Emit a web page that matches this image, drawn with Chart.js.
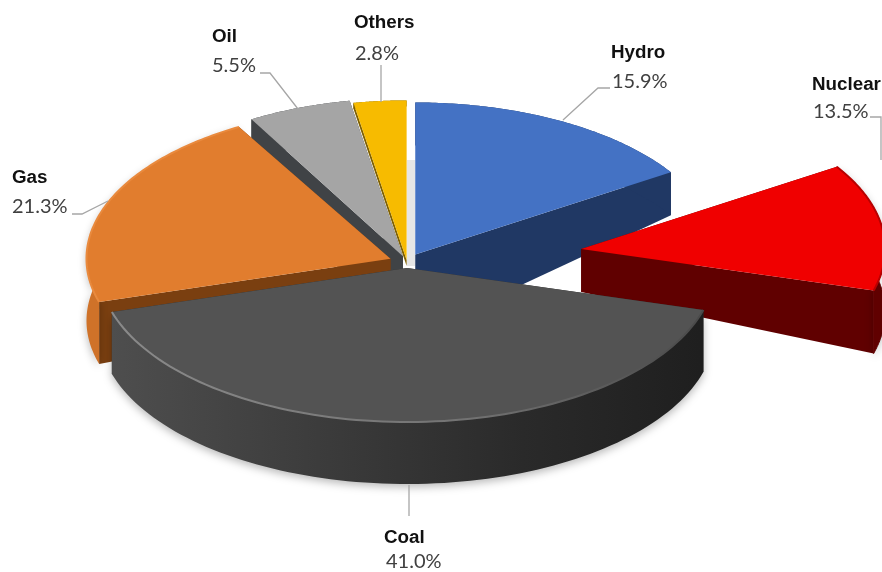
<!DOCTYPE html>
<html>
<head>
<meta charset="utf-8">
<title>Generation mix</title>
<style>
  html, body { margin: 0; padding: 0; background: #fff; overflow: hidden; }
  canvas { display: block; }
</style>
<script src="https://cdn.jsdelivr.net/npm/chart.js@4/dist/chart.umd.min.js"></script>
</head>
<body>
<canvas id="pieChart" width="882" height="572"></canvas>
<script>
/* =====================
  Data
===================== */
var categories = ['Hydro', 'Nuclear', 'Coal', 'Gas', 'Oil', 'Others'];
var shares = [15.9, 13.5, 41.0, 21.3, 5.5, 2.8];

/* =====================
  Slice styling
===================== */
var faceColors = ['#4472c4', '#f00000', '#535353', '#e17d2e', '#a5a5a5', '#f7bb00'];
var sideColors = ['#203864', '#600000', '#2c2c2c', '#7a3f10', '#404346', '#7f6000'];
var rimColors = ['#203864', '#600000', null, '#cf7229', '#404346', '#7f6000'];
var sliceOffsets = [30, 307, 21, 31, 21, 7];
// wall height at the slice tip and at the rim, px
var wallNear = [80, 43, 62, 50, 40, 6];
var wallFar = [43, 63, 62, 62, 40, 6];
// back slices go first so the front ones cover them
var drawOrder = [4, 5, 0, 3, 1, 2];

/* =====================
  Projection of the flat pie
===================== */
var pieCenter = { x: 407, y: 262 };
var rimRadius = [304, 304, 308, 304, 304, 304];
var rimTilt = [0.5, 0.5, 0.5, 0.5, 0.52, 0.525];
var baseRadius = 304;

/* =====================
  Labels: name anchor, value anchor, leader line
===================== */
var labelLayout = [
  { name: [611, 58], value: [612, 88], line: [[563, 120], [598, 88], [610, 88]] },
  { name: [812, 90], value: [813, 118], line: [[870, 117], [881, 117], [881, 160]] },
  { name: [384, 543], value: [386, 568], line: [[409, 485], [409, 516]] },
  { name: [12, 183], value: [12, 213], line: [[72, 214], [82, 214], [108, 201]] },
  { name: [212, 42], value: [212, 72], line: [[260, 73], [270, 73], [298, 109]] },
  { name: [354, 28], value: [355, 60], line: [[381, 65], [381, 102]] }
];

var projector = function (arc, index) {
  var sx = baseRadius / arc.outerRadius;
  var sy = sx * 0.5;
  var mid = (arc.startAngle + arc.endAngle) / 2;
  var shift = arc.options.offset / 4;
  var tipX = pieCenter.x + sx * Math.cos(mid) * shift;
  var tipY = pieCenter.y + sy * Math.sin(mid) * shift;
  return {
    tipX: tipX,
    tipY: tipY,
    // t runs from the tip (0) to the rim (1)
    at: function (angle, t) {
      return {
        x: tipX + t * rimRadius[index] * Math.cos(angle),
        y: tipY + t * rimRadius[index] * rimTilt[index] * Math.sin(angle)
      };
    },
    depth: function (t) {
      return wallNear[index] + (wallFar[index] - wallNear[index]) * t;
    }
  };
};

var drawRadialWall = function (ctx, pr, angle, color) {
  var tip = pr.at(angle, 0);
  var rim = pr.at(angle, 1);
  ctx.fillStyle = color;
  ctx.beginPath();
  ctx.moveTo(tip.x, tip.y);
  ctx.lineTo(rim.x, rim.y);
  ctx.lineTo(rim.x, rim.y + pr.depth(1));
  ctx.lineTo(tip.x, tip.y + pr.depth(0));
  ctx.closePath();
  ctx.fill();
};

var rimPoints = function (arc, pr) {
  var pts = [];
  var steps = 90;
  for (var i = 0; i <= steps; i++) {
    pts.push(pr.at(arc.startAngle + (arc.endAngle - arc.startAngle) * i / steps, 1));
  }
  return pts;
};

var tracePoints = function (ctx, pts) {
  pts.forEach(function (p, i) {
    if (i === 0) ctx.moveTo(p.x, p.y);
    else ctx.lineTo(p.x, p.y);
  });
};

var drawRimWall = function (ctx, arc, pr, index) {
  var pts = rimPoints(arc, pr);
  var fill = rimColors[index];
  if (index === 2) {
    fill = ctx.createLinearGradient(112, 0, 700, 0);
    fill.addColorStop(0, '#4e4e4e');
    fill.addColorStop(0.35, '#3c3c3c');
    fill.addColorStop(0.7, '#2a2a2a');
    fill.addColorStop(1, '#1f1f1f');
  }
  ctx.save();
  // soft ground shadow under the big front slices
  if (index === 1 || index === 2 || index === 3) {
    ctx.shadowColor = 'rgba(0,0,0,0.28)';
    ctx.shadowBlur = 9;
    ctx.shadowOffsetY = 3;
  }
  ctx.fillStyle = fill;
  ctx.beginPath();
  tracePoints(ctx, pts);
  for (var j = pts.length - 1; j >= 0; j--) {
    ctx.lineTo(pts[j].x, pts[j].y + pr.depth(1));
  }
  ctx.closePath();
  ctx.fill();
  // closes the hairline seam against the flat wall of the red slice
  if (index === 1) {
    ctx.shadowColor = 'transparent';
    ctx.strokeStyle = fill;
    ctx.lineWidth = 1;
    ctx.stroke();
  }
  ctx.restore();
};

var drawFace = function (ctx, arc, pr, index) {
  ctx.fillStyle = arc.options.backgroundColor;
  ctx.beginPath();
  tracePoints(ctx, rimPoints(arc, pr));
  ctx.lineTo(pr.tipX, pr.tipY);
  ctx.closePath();
  ctx.fill();
};

// thin bevel line just inside the rim of the top face
var drawBevel = function (ctx, arc, pr, index) {
  var stroke = null;
  var width = 2;
  if (index === 2) {
    stroke = ctx.createLinearGradient(112, 0, 700, 0);
    stroke.addColorStop(0, '#8a8a8a');
    stroke.addColorStop(0.6, '#737373');
    stroke.addColorStop(1, '#4a4a4a');
  } else if (index === 3) {
    stroke = '#e98a3e';
  } else if (index === 1) {
    stroke = '#b80000';
  }
  if (!stroke) return;
  ctx.strokeStyle = stroke;
  ctx.lineWidth = width;
  ctx.beginPath();
  tracePoints(ctx, rimPoints(arc, pr));
  ctx.stroke();
};

var tiltedPie = {
  id: 'tiltedPie',
  // the slices are painted here instead of by the default flat pass
  beforeDatasetDraw: function (chart, args) {
    var ctx = chart.ctx;
    var arcs = args.meta.data;

    // pale strip seen through the gap behind the blue slice
    ctx.fillStyle = '#e6e6e6';
    ctx.fillRect(407, 160, 8, 106);

    drawOrder.forEach(function (index) {
      var arc = arcs[index];
      var pr = projector(arc, index);
      drawRadialWall(ctx, pr, arc.startAngle, sideColors[index]);
      drawRadialWall(ctx, pr, arc.endAngle, sideColors[index]);
      drawRimWall(ctx, arc, pr, index);
      drawFace(ctx, arc, pr, index);
      drawBevel(ctx, arc, pr, index);
    });
    return false;
  },
  afterDraw: function (chart) {
    var ctx = chart.ctx;
    ctx.save();
    ctx.textBaseline = 'alphabetic';
    ctx.textAlign = 'left';
    categories.forEach(function (name, i) {
      var spot = labelLayout[i];
      ctx.strokeStyle = '#a6a6a6';
      ctx.lineWidth = 1.3;
      ctx.beginPath();
      spot.line.forEach(function (p, k) {
        if (k === 0) ctx.moveTo(p[0], p[1]);
        else ctx.lineTo(p[0], p[1]);
      });
      ctx.stroke();

      ctx.fillStyle = '#111';
      ctx.font = 'bold 18.8px "Liberation Sans"';
      ctx.fillText(name, spot.name[0], spot.name[1]);
      ctx.fillStyle = '#404040';
      ctx.font = '20px Lato';
      ctx.fillText(shares[i].toFixed(1) + '%', spot.value[0], spot.value[1]);
    });
    ctx.restore();
  }
};

/* =====================
  Chart
===================== */
var ctx_pie = document.getElementById('pieChart').getContext('2d');
var pieChart = new Chart(ctx_pie, {
  type: 'pie',
  data: {
    labels: categories,
    datasets: [{
      data: shares,
      backgroundColor: faceColors,
      offset: sliceOffsets,
      borderWidth: 0
    }]
  },
  options: {
    responsive: false,
    animation: false,
    events: [],
    plugins: {
      legend: { display: false },
      tooltip: { enabled: false }
    }
  },
  plugins: [tiltedPie]
});
</script>
</body>
</html>
